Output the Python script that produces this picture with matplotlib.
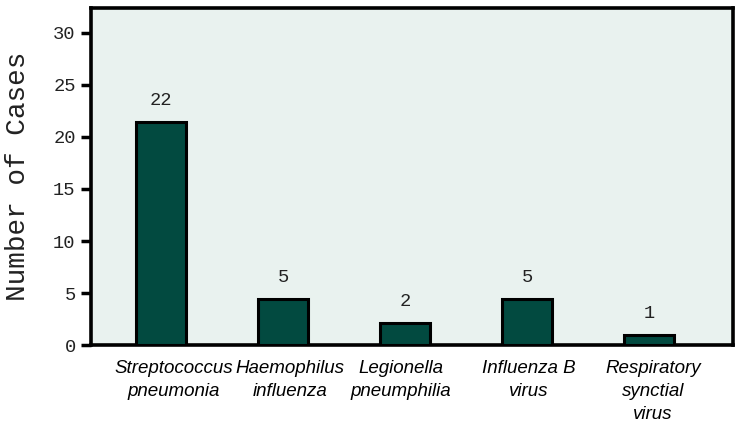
import matplotlib
matplotlib.use("Agg")
import matplotlib.pyplot as plt
from matplotlib.transforms import ScaledTranslation

categories = ["Streptococcus\npneumonia", "Haemophilus\ninfluenza", "Legionella\npneumphilia",
              "Influenza B\nvirus", "Respiratory\nsynctial\nvirus"]
bar_heights = [21.4, 4.4, 2.1, 4.4, 1.0]   # heights as drawn in the picture
value_labels = ["22", "5", "2", "5", "1"]
yticks = [0, 5, 10, 15, 20, 25, 30]

mono = "Liberation Mono"
sans = "Liberation Sans"

fig = plt.figure(figsize=(7.42, 4.33), dpi=100)
ax = fig.add_axes([0.1226, 0.2032, 0.988 - 0.1226, 0.9815 - 0.2032])
ax.set_facecolor("#e9f2ef")

x = list(range(len(categories)))
ax.bar(x, bar_heights, width=0.41, color="#024a40", edgecolor="black", linewidth=2.2, zorder=3)
for xi, h, lab in zip(x, bar_heights, value_labels):
    ax.text(xi, h + 1.25, lab, ha="center", va="bottom", fontsize=13.5, family=mono, color="#222222")

ax.set_xlim(-0.574, 4.689)
ax.set_ylim(0, 32.4)
ax.set_yticks(yticks)
ax.set_yticklabels([str(t) for t in yticks], family=mono, fontsize=13.5, color="#222222")
ax.tick_params(axis="y", direction="out", length=7, width=2.5, pad=4)
ax.set_xticks(x)
ax.set_xticklabels(categories, family=sans, style="italic", fontsize=13.5, linespacing=1.45)
ax.tick_params(axis="x", length=0, pad=11)
label_shift_px = [13, 7, -4, 2, 4]
for lbl, dx in zip(ax.get_xticklabels(), label_shift_px):
    lbl.set_transform(lbl.get_transform() + ScaledTranslation(dx / 100, 0, fig.dpi_scale_trans))
for s in ax.spines.values():
    s.set_linewidth(2.6)
    s.set_color("black")
ax.set_ylabel("Number of Cases", family=mono, fontsize=20, color="#222222", labelpad=16)

fig.savefig("out.png", dpi=100)
